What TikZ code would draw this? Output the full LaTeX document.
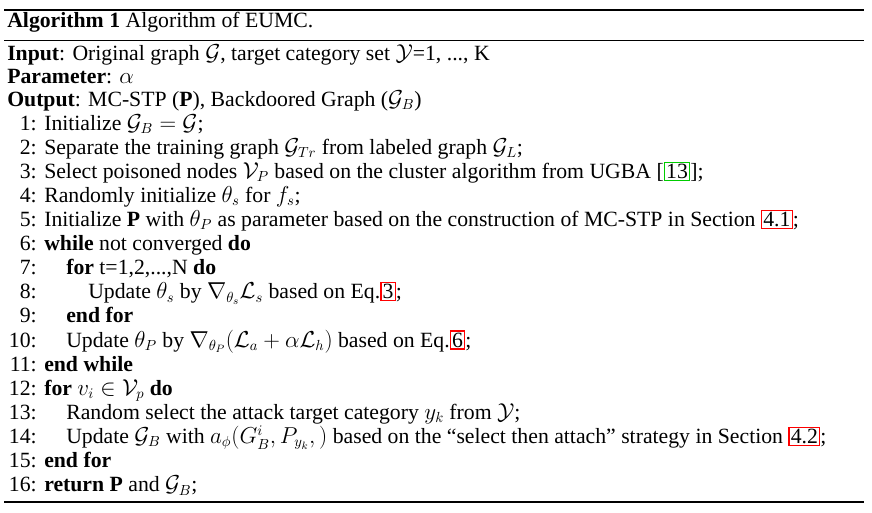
\documentclass[tikz,border=0pt]{standalone}
\usepackage{amsmath}
\usepackage{amssymb}
\usepackage{fontspec}
\setmainfont{Liberation Serif}
\usepackage{tikz}
\usetikzlibrary{positioning}
\newcommand{\rbox}[1]{{\setlength{\fboxsep}{0.8pt}\setlength{\fboxrule}{1pt}\fcolorbox{red}{white}{#1}}}
\newcommand{\gbox}[1]{{\setlength{\fboxsep}{0.8pt}\setlength{\fboxrule}{1pt}\fcolorbox{green!80!black}{white}{#1}}}
\begin{document}
\begin{tikzpicture}[x=0.75pt, y=-0.75pt, font=\fontsize{16.3}{19}\selectfont,
  txt/.style={anchor=base west, inner sep=0pt},
  num/.style={anchor=base east, inner sep=0pt}]
  \useasboundingbox (0,0) rectangle (872,512);
  \draw[line width=1pt] (4,10) -- (864,10);
  \draw[line width=0.5pt] (4,40) -- (864,40);
  \draw[line width=1pt] (4,502) -- (864,502);
  \node[txt] (title) at (7,27) {\textbf{Algorithm 1} Algorithm of EUMC.};
  \node[txt] (input) at (7,60) {\textbf{Input}: Original graph $\mathcal{G}$, target category set $\mathcal{Y}$=1, ..., K};
  \node[txt] (param) at (7,83) {\textbf{Parameter}: $\alpha$};
  \node[txt] (output) at (7,106) {\textbf{Output}: MC-STP ($\mathbf{P}$), Backdoored Graph ($\mathcal{G}_B$)};
  % numbered lines
  \foreach \i in {1,...,16}
    \node[num] (n\i) at (37,{106+24.1*\i}) {\i:};
  \node[txt] (l1) at (44,130.1) {Initialize $\mathcal{G}_B=\mathcal{G}$;};
  \node[txt] (l2) at (44,154.2) {Separate the training graph $\mathcal{G}_{Tr}$ from labeled graph $\mathcal{G}_L$;};
  \node[txt] (l3) at (44,178.3) {Select poisoned nodes $\mathcal{V}_P$ based on the cluster algorithm from UGBA [\gbox{13}];};
  \node[txt] (l4) at (44,202.4) {Randomly initialize $\theta_s$ for $f_s$;};
  \node[txt] (l5) at (44,226.5) {Initialize $\mathbf{P}$ with $\theta_P$ as parameter based on the construction of MC-STP in Section \rbox{4.1};};
  \node[txt] (l6) at (44,250.6) {\textbf{while} not converged \textbf{do}};
  \node[txt] (l7) at (66,274.7) {\textbf{for} t=1,2,...,N \textbf{do}};
  \node[txt] (l8) at (88,298.8) {Update $\theta_s$ by $\nabla_{\theta_s}\mathcal{L}_s$ based on Eq.\rbox{3};};
  \node[txt] (l9) at (66,322.9) {\textbf{end for}};
  \node[txt] (l10) at (66,347) {Update $\theta_P$ by $\nabla_{\theta_P}(\mathcal{L}_a+\alpha\mathcal{L}_h)$ based on Eq.\rbox{6};};
  \node[txt] (l11) at (44,371.1) {\textbf{end while}};
  \node[txt] (l12) at (44,395.2) {\textbf{for} $v_i\in\mathcal{V}_p$ \textbf{do}};
  \node[txt] (l13) at (66,419.3) {Random select the attack target category $y_k$ from $\mathcal{Y}$;};
  \node[txt] (l14) at (66,443.4) {Update $\mathcal{G}_B$ with $a_\phi(G_B^i,P_{y_k},)$ based on the ``select then attach'' strategy in Section \rbox{4.2};};
  \node[txt] (l15) at (44,467.5) {\textbf{end for}};
  \node[txt] (l16) at (44,491.6) {\textbf{return} $\mathbf{P}$ and $\mathcal{G}_B$;};
\end{tikzpicture}
\end{document}
